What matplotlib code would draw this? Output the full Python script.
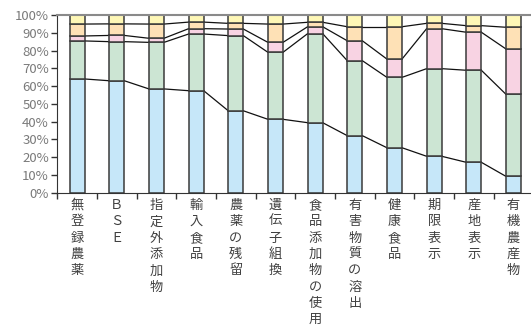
import numpy as np
import matplotlib
matplotlib.use("Agg")
import matplotlib.pyplot as plt

plt.rcParams['font.family'] = ['Noto Sans CJK JP', 'DejaVu Sans']

categories = ["無登録農薬", "ＢＳＥ", "指定外添加物", "輸入食品", "農薬の残留", "遺伝子組換",
              "食品添加物の使用", "有害物質の溶出", "健康食品", "期限表示", "産地表示", "有機農産物"]

# share of answers per category (%), bottom to top
blue = [64.0, 63.0, 58.4, 57.4, 46.1, 41.3, 39.4, 32.1, 25.3, 20.5, 17.1, 9.2]
green = [21.4, 22.0, 26.2, 31.9, 42.3, 37.7, 50.1, 42.2, 39.6, 49.3, 51.8, 46.2]
pink = [2.8, 3.5, 2.3, 3.0, 3.7, 5.6, 3.9, 11.2, 10.3, 22.5, 21.4, 25.5]
peach = [6.7, 6.5, 8.0, 3.7, 3.2, 10.3, 2.5, 7.9, 18.2, 3.0, 3.7, 12.2]
yellow = [5.1, 5.0, 5.1, 4.0, 4.7, 5.1, 4.1, 6.6, 6.6, 4.7, 6.0, 6.9]

series = [blue, green, pink, peach, yellow]
colors = ["#c6e7f9", "#cce5d3", "#f8d3e3", "#fee1b6", "#fef7b6"]

fig = plt.figure(figsize=(5.31, 3.25), dpi=100)
ax = fig.add_axes([57.3 / 531, 1 - 192.7 / 325, 476 / 531, 177.7 / 325])

x = np.arange(len(categories))
width = 0.38
bottom = np.zeros(len(categories))
for vals, col in zip(series, colors):
    vals = np.array(vals)
    ax.bar(x, vals, width, bottom=bottom, color=col, edgecolor="#3a3a3a", linewidth=1.1, zorder=2)
    bottom = bottom + vals
    # series lines between neighbouring bars
    if col != colors[-1]:
        for i in range(len(x) - 1):
            ax.plot([x[i] + width / 2, x[i + 1] - width / 2], [bottom[i], bottom[i + 1]],
                    color="#111111", linewidth=0.9, zorder=1)

ax.set_xlim(-0.5, len(categories) - 0.5)
ax.set_ylim(0, 100)
ax.set_yticks(np.arange(0, 101, 10))
ax.set_yticklabels([f"{v}%" for v in range(0, 101, 10)], color="#7a7a7a", fontsize=9.5)
ax.tick_params(axis="y", length=4, width=1, color="#333333", pad=2)

ax.set_xticks(np.arange(-0.5, len(categories), 1.0))
ax.set_xticklabels([])
ax.tick_params(axis="x", length=4, width=1, color="#333333", direction="out")

# vertical category names, one character per line
for i, name in enumerate(categories):
    ax.text(i, -3.6, "\n".join(name), ha="center", va="top", fontsize=9.5,
            color="#404040", linespacing=1.33, clip_on=False)

ax.spines["left"].set_color("#333333")
ax.spines["bottom"].set_color("#333333")
ax.spines["top"].set_color("#8a8a8a")
ax.spines["top"].set_linewidth(1.5)
ax.spines["right"].set_color("#8a8a8a")

fig.savefig("out.png", dpi=100)
